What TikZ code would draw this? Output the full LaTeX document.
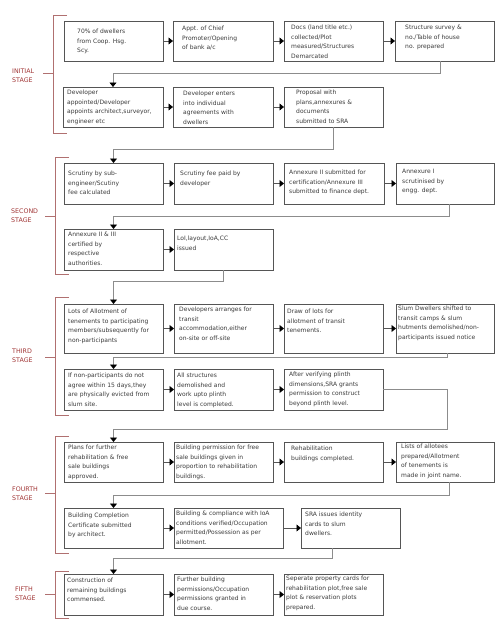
\documentclass[tikz,border=0pt]{standalone}
\usepackage{fontspec}
\setmainfont{DejaVu Sans}
\usetikzlibrary{arrows.meta,calc}
\definecolor{boxc}{HTML}{555555}
\definecolor{conc}{HTML}{8C8C8C}
\definecolor{stg}{HTML}{A03434}
\definecolor{brk}{HTML}{B07070}
\definecolor{txtc}{HTML}{3A3A3A}
\newcommand\bx[5]{\node[box,minimum width=#4pt,minimum height=#5pt] (#1) at (#2,#3) {};}
\newcommand\tx[4]{\node[txt] (#1) at (#2,#3) {#4};}
\begin{document}
\begin{tikzpicture}[x=1pt,y=-1pt,
  box/.style={draw=boxc,line width=0.7pt,inner sep=0pt,outer sep=0pt,anchor=north west},
  txt/.style={anchor=north west,inner sep=0pt,align=left,text=txtc,font=\fontsize{6}{9.5}\selectfont},
  harr/.style={draw=boxc,line width=0.7pt,-{Triangle[length=4.5pt,width=7pt,color=black]}},
  conn/.style={draw=conc,line width=0.8pt,-{Triangle[length=4.5pt,width=7pt,color=black]}},
  brkt/.style={draw=brk,line width=0.8pt},
  stage/.style={anchor=west,inner sep=0pt,align=left,text=stg,font=\fontsize{6.3}{9}\selectfont}]
\useasboundingbox (0,0) rectangle (501,640);
% boxes
\bx{b1}{64}{21}{99}{40}
\bx{b2}{173}{21}{100}{40}
\bx{b3}{284}{21}{99}{40}
\bx{b4}{395}{21}{99}{40}
\bx{b5}{63}{87}{100}{40}
\bx{b6}{173}{87}{100}{40}
\bx{b7}{284}{87}{99}{40}
\bx{b8}{64}{163}{99}{41}
\bx{b9}{174}{163}{99}{41}
\bx{b10}{284}{163}{100}{41}
\bx{b11}{396}{163}{98}{41}
\bx{b12}{64}{229}{99}{41}
\bx{b13}{174}{229}{99}{41}
\bx{b14}{64}{304}{99}{49}
\bx{b15}{174}{304}{99}{49}
\bx{b16}{284}{304}{99}{49}
\bx{b17}{396}{304}{98}{49}
\bx{b18}{64}{369}{99}{41}
\bx{b19}{174}{369}{99}{41}
\bx{b20}{284}{369}{99}{41}
\bx{b21}{64}{442}{99}{40}
\bx{b22}{174}{442}{99}{40}
\bx{b23}{284}{442}{99}{40}
\bx{b24}{396}{442}{98}{40}
\bx{b25}{64}{508}{99}{40}
\bx{b26}{174}{508}{109}{40}
\bx{b27}{301}{508}{99}{40}
\bx{b28}{64}{574}{99}{41}
\bx{b29}{174}{574}{99}{41}
\bx{b30}{284}{574}{99}{41}
% texts
\tx{t1}{77}{29}{70\% of dwellers\\from Coop. Hsg.\\Scy.}
\tx{t2}{182}{26}{Appt. of Chief\\Promoter/Opening\\of bank a/c}
\tx{t3}{291}{25}{Docs (land title etc.)\\collected/Plot\\measured/Structures\\Demarcated}
\tx{t4}{405}{25}{Structure survey \&\\no./Table of house\\no. prepared}
\tx{t5}{67}{90}{Developer\\appointed/Developer\\appoints architect,surveyor,\\engineer etc}
\tx{t6}{183}{91}{Developer enters\\into individual\\agreements with\\dwellers}
\tx{t7}{296}{90}{Proposal with\\plans,annexures \&\\documents\\submitted to SRA}
\tx{t8}{68}{171}{Scrutiny by sub-\\engineer/Scutiny\\fee calculated}
\tx{t9}{180}{171}{Scrutiny fee paid by\\developer}
\tx{t10}{289}{170}{Annexure II submitted for\\certification/Annexure III\\submitted to finance dept.}
\tx{t11}{402}{169}{Annexure I\\scrutinised by\\engg. dept.}
\tx{t12}{68}{232}{Annexure II \& III\\certified by\\respective\\authorities.}
\tx{t13}{177}{236}{LoI,layout,IoA,CC\\issued}
\tx{t14}{68}{309}{Lots of Allotment of\\tenements to participating\\members/subsequently for\\non-participants}
\tx{t15}{179}{307}{Developers arranges for\\transit\\accommodation,either\\on-site or off-site}
\tx{t16}{287}{309}{Draw of lots for\\allotment of transit\\tenements.}
\tx{t17}{398}{306}{Slum Dwellers shifted to\\transit camps \& slum\\hutments demolished/non-\\participants issued notice}
\tx{t18}{68}{373}{If non-participants do not\\agree within 15 days,they\\are physically evicted from\\slum site.}
\tx{t19}{177}{373}{All structures\\demolished and\\work upto plinth\\level is completed.}
\tx{t20}{289}{372}{After verifying plinth\\dimensions,SRA grants\\permission to construct\\beyond plinth level.}
\tx{t21}{68}{445}{Plans for further\\rehabilitation \& free\\sale buildings\\approved.}
\tx{t22}{176}{445}{Building permission for free\\sale buildings given in\\proportion to rehabilitation\\buildings.}
\tx{t23}{291}{446}{Rehabilitation\\buildings completed.}
\tx{t24}{401}{444}{Lists of allotees\\prepared/Allotment\\of tenements is\\made in joint name.}
\tx{t25}{68}{513}{Building Completion\\Certificate submitted\\by architect.}
\tx{t26}{176}{511}{Building \& compliance with IoA\\conditions verified/Occupation\\permitted/Possession as per\\allotment.}
\tx{t27}{305}{512}{SRA issues identity\\cards to slum\\dwellers.}
\tx{t28}{67}{578}{Construction of\\remaining buildings\\commensed.}
\tx{t29}{177}{577}{Further building\\permissions/Occupation\\permissions granted in\\due course.}
\tx{t30}{286}{576}{Seperate property cards for\\rehabilitation plot,free sale\\plot \& reservation plots\\prepared.}
% horizontal arrows
\foreach \a/\b in {b1/b2,b2/b3,b3/b4,b5/b6,b6/b7,b8/b9,b9/b10,b10/b11,b12/b13,
  b14/b15,b15/b16,b16/b17,b18/b19,b19/b20,b21/b22,b22/b23,b23/b24,b25/b26,b26/b27,
  b28/b29,b29/b30}
  \draw[harr] (\a.east) -- (\b.west);
% return connectors
\coordinate (k4) at (440,73);
\coordinate (k7) at (333,149);
\coordinate (k11) at (449,216);
\coordinate (k13) at (223,281);
\coordinate (k17) at (447,357);
\coordinate (k20) at (447,429);
\coordinate (k24) at (449,495);
\coordinate (k27) at (332,558);
\draw[conn] (k4 |- b4.south) -- (k4) -| (b5.north);
\draw[conn] (k7 |- b7.south) -- (k7) -| (b8.north);
\draw[conn] (k11 |- b11.south) -- (k11) -| (b12.north);
\draw[conn] (k13 |- b13.south) -- (k13) -| (b14.north);
\draw[conn] (k17 |- b17.south) -- (k17) -| (b18.north);
\draw[conn] (b20.east) -| (k20) -| (b21.north);
\draw[conn] (k24 |- b24.south) -- (k24) -| (b25.north);
\draw[conn] (k27 |- b27.south) -- (k27) -| (b28.north);
% brackets
\coordinate (g1) at (53,15); \coordinate (h1) at (53,133); \coordinate (m1) at (53,73);
\coordinate (g2) at (55,157); \coordinate (h2) at (55,274); \coordinate (m2) at (55,216);
\coordinate (g3) at (55,297); \coordinate (h3) at (55,415); \coordinate (m3) at (55,357);
\coordinate (g4) at (55,436); \coordinate (h4) at (55,553); \coordinate (m4) at (55,493);
\coordinate (g5) at (55,571); \coordinate (h5) at (55,618); \coordinate (m5) at (55,594);
\foreach \i in {1,...,5}{
  \draw[brkt] ($(g\i)+(14,0)$) -- (g\i) -- (h\i) -- ($(h\i)+(14,0)$);
  \draw[brkt] ($(m\i)+(-10,0)$) -- (m\i);
}
\node[stage] (s1) at (12,75.5) {INITIAL\\STAGE};
\node[stage] (s2) at (11,215.5) {SECOND\\STAGE};
\node[stage] (s3) at (12,356) {THIRD\\STAGE};
\node[stage] (s4) at (12,494) {FOURTH\\STAGE};
\node[stage] (s5) at (15,594) {FIFTH\\STAGE};
\end{tikzpicture}
\end{document}
